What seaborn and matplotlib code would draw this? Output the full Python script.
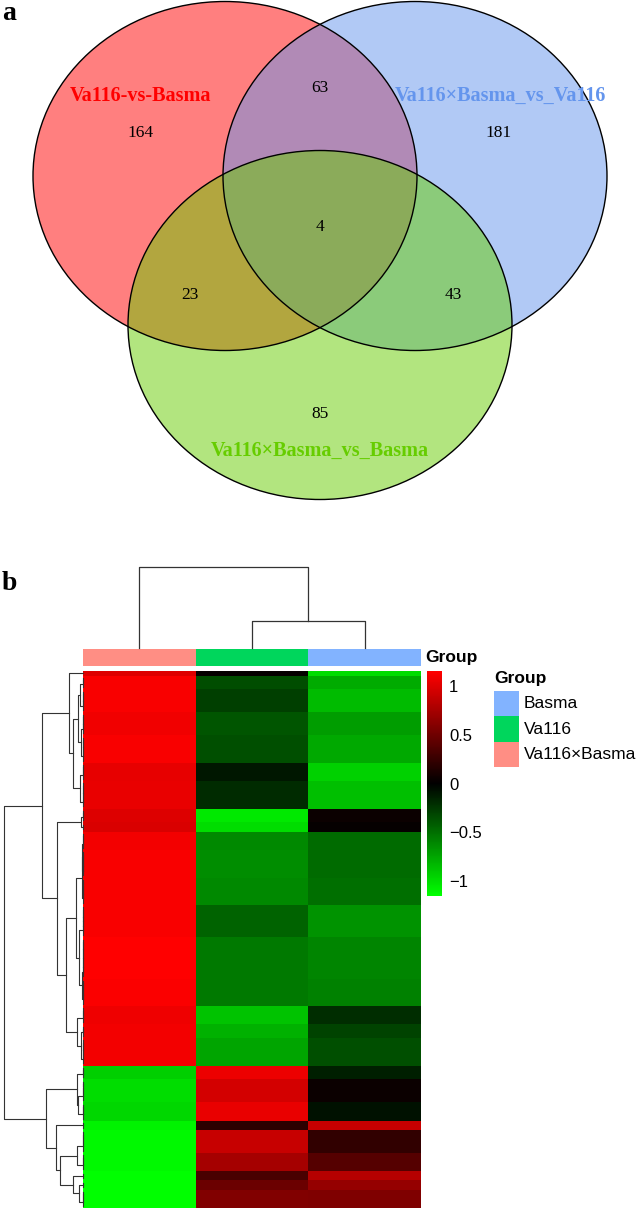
import numpy as np
import pandas as pd
import matplotlib
matplotlib.use("Agg")
import matplotlib.pyplot as plt
from matplotlib.patches import Ellipse, Rectangle
from matplotlib.colors import LinearSegmentedColormap, ListedColormap
import seaborn as sns

# ---- panel a: venn ----
set_names = ["Va116-vs-Basma", "Va116×Basma_vs_Va116", "Va116×Basma_vs_Basma"]
set_colors = ["#FF0000", "#6495ED", "#66CD00"]
# only A, only B, only C, AB, AC, BC, ABC
region_counts = [164, 181, 85, 63, 23, 43, 4]

# ---- panel b: heatmap (row z-scores, blocks of similar genes) ----
samples = ["Va116×Basma", "Va116", "Basma"]
legend_groups = ["Basma", "Va116", "Va116×Basma"]
group_colors = {"Basma": "#82B3FF", "Va116": "#00D65C", "Va116×Basma": "#FF8E84"}
block_rows = [1, 3, 5, 5, 6, 4, 6, 3, 2, 4, 6, 6, 7, 9, 6, 4, 3, 6,
              3, 5, 4, 2, 5, 4, 2, 2, 4]
z_hybrid = [1.0, 1.12, 1.12, 1.09, 1.12, 1.04, 1.05, 1.0, 0.98, 1.1, 1.12, 1.12, 1.12, 1.15, 1.13, 1.08, 1.1, 1.1,
            -0.93, -1.0, -0.97, -1.1, -1.12, -1.12, -1.15, -1.15, -1.15]
z_va116 = [0.02, -0.35, -0.28, -0.38, -0.36, -0.1, -0.19, -1.05, -1.0, -0.62, -0.64, -0.62, -0.45, -0.55, -0.55, -0.88, -0.8, -0.74,
           1.07, 0.95, 1.05, 0.2, 0.9, 0.74, 0.33, 0.48, 0.58]
z_basma = [-1.0, -0.77, -0.84, -0.71, -0.76, -0.94, -0.86, 0.05, 0.02, -0.48, -0.48, -0.5, -0.66, -0.6, -0.58, -0.2, -0.3, -0.36,
           -0.14, 0.05, -0.08, 0.9, 0.22, 0.38, 0.82, 0.67, 0.57]
cbar_ticks = [-1, -0.5, 0, 0.5, 1]
cbar_labels = ["\u22121", "\u22120.5", "0", "0.5", "1"]

df = pd.DataFrame({
    "Va116×Basma": np.repeat(z_hybrid, block_rows),
    "Va116": np.repeat(z_va116, block_rows),
    "Basma": np.repeat(z_basma, block_rows),
})[samples]
mat = df.values
zmax = 2 / np.sqrt(3)


def adjacent_complete_linkage(X):
    # agglomerative clustering (complete, euclidean) keeping the display order
    D = np.sqrt(((X[:, None, :] - X[None, :, :]) ** 2).sum(-1))
    clusters = [[i] for i in range(len(X))]
    pos = [i + 0.5 for i in range(len(X))]
    hts = [0.0] * len(X)
    segs = []
    while len(clusters) > 1:
        best_d, best_k = None, 0
        for k in range(len(clusters) - 1):
            d = D[np.ix_(clusters[k], clusters[k + 1])].max()
            if best_d is None or d < best_d - 1e-12:
                best_d, best_k = d, k
        k = best_k
        segs.append(([hts[k], best_d, best_d, hts[k + 1]], [pos[k], pos[k], pos[k + 1], pos[k + 1]]))
        clusters[k] = clusters[k] + clusters[k + 1]
        pos[k] = (pos[k] + pos[k + 1]) / 2
        hts[k] = best_d
        del clusters[k + 1], pos[k + 1], hts[k + 1]
    return segs, hts[0]


W, H = 644, 1211


def box(x0, y0, x1, y1):
    return [x0 / W, 1 - y1 / H, (x1 - x0) / W, (y1 - y0) / H]


fig = plt.figure(figsize=(6.44, 12.11), dpi=100)

# ---------------- venn ----------------
ax_v = fig.add_axes([0, 1 - 560 / H, 1, 560 / H])
ax_v.set_xlim(0, W)
ax_v.set_ylim(560, 0)
ax_v.axis("off")
centers = [(225, 176), (415, 176), (320, 325)]
for (cx, cy), col in zip(centers, set_colors):
    ax_v.add_patch(Ellipse((cx, cy), 384, 349, facecolor=col, alpha=0.5, edgecolor="none"))
for (cx, cy) in centers:
    ax_v.add_patch(Ellipse((cx, cy), 384, 349, facecolor="none", edgecolor="black", lw=1.0))

count_pos = [(141, 133), (499, 133), (320, 414), (320, 88), (190, 295), (453, 295), (320, 227)]
for (x, y), n in zip(count_pos, region_counts):
    ax_v.text(x, y, str(n), ha="center", va="center", fontsize=12.5, family="Liberation Serif")
name_pos = [(141, 96), (500, 96), (320, 451)]
for (x, y), name, col in zip(name_pos, set_names, set_colors):
    ax_v.text(x, y, name, ha="center", va="center", fontsize=14.5, fontweight="bold",
              family="Liberation Serif", color=col)

fig.text(2 / W, 1 - 14 / H, "a", fontsize=20, fontweight="bold", family="Liberation Serif", va="center")
fig.text(2 / W, 1 - 583 / H, "b", fontsize=20, fontweight="bold", family="Liberation Serif", va="center")

# ---------------- heatmap ----------------
cmap = LinearSegmentedColormap.from_list("gbr", ["#00FF00", "#000000", "#FF0000"])
ax_hm = fig.add_axes(box(83, 671, 421, 1208))
cax = fig.add_axes(box(427, 671, 442, 896))
sns.heatmap(df, ax=ax_hm, cmap=cmap, vmin=-zmax, vmax=zmax, cbar_ax=cax,
            xticklabels=False, yticklabels=False, rasterized=True)
ax_hm.set_xlabel("")
ax_hm.set_ylabel("")
cb = ax_hm.collections[0].colorbar
cb.set_ticks(cbar_ticks)
cb.set_ticklabels(cbar_labels)
cb.outline.set_visible(False)
cax.tick_params(length=0, labelsize=12, pad=5)
for t in cax.get_yticklabels():
    t.set_family("Liberation Sans")

# annotation bar
ax_ann = fig.add_axes(box(83, 649, 421, 666))
sns.heatmap(np.array([[0, 1, 2]]), ax=ax_ann, cmap=ListedColormap([group_colors[s] for s in samples]),
            cbar=False, xticklabels=False, yticklabels=False)
fig.text(425 / W, 1 - 658 / H, "Group", fontsize=12.5, fontweight="bold", family="Liberation Sans", va="center")

# column dendrogram
col_segs, col_root = adjacent_complete_linkage(mat.T)
ax_cd = fig.add_axes(box(83, 567, 421, 648))
for hs, ps in col_segs:
    ax_cd.plot(ps, hs, color="#333333", lw=0.9, clip_on=False)
ax_cd.set_xlim(0, 3)
ax_cd.set_ylim(0, col_root)
ax_cd.axis("off")

# row dendrogram
row_segs, row_root = adjacent_complete_linkage(mat)
ax_rd = fig.add_axes(box(4, 671, 83, 1208))
for hs, ps in row_segs:
    ax_rd.plot(hs, ps, color="#333333", lw=0.8, clip_on=False)
ax_rd.set_xlim(row_root, 0)
ax_rd.set_ylim(len(mat), 0)
ax_rd.axis("off")

# legend
fig.text(494 / W, 1 - 678 / H, "Group", fontsize=12.5, fontweight="bold", family="Liberation Sans", va="center")
ax_leg = fig.add_axes([0, 0, 1, 1], facecolor="none")
ax_leg.set_xlim(0, W)
ax_leg.set_ylim(H, 0)
ax_leg.axis("off")
for i, g in enumerate(legend_groups):
    y0 = 691 + i * 25.3
    ax_leg.add_patch(Rectangle((494, y0), 25, 25.3, facecolor=group_colors[g], edgecolor="none"))
    ax_leg.text(524, y0 + 13, g, fontsize=12.5, family="Liberation Sans", va="center")

fig.savefig("out.png", dpi=100)
